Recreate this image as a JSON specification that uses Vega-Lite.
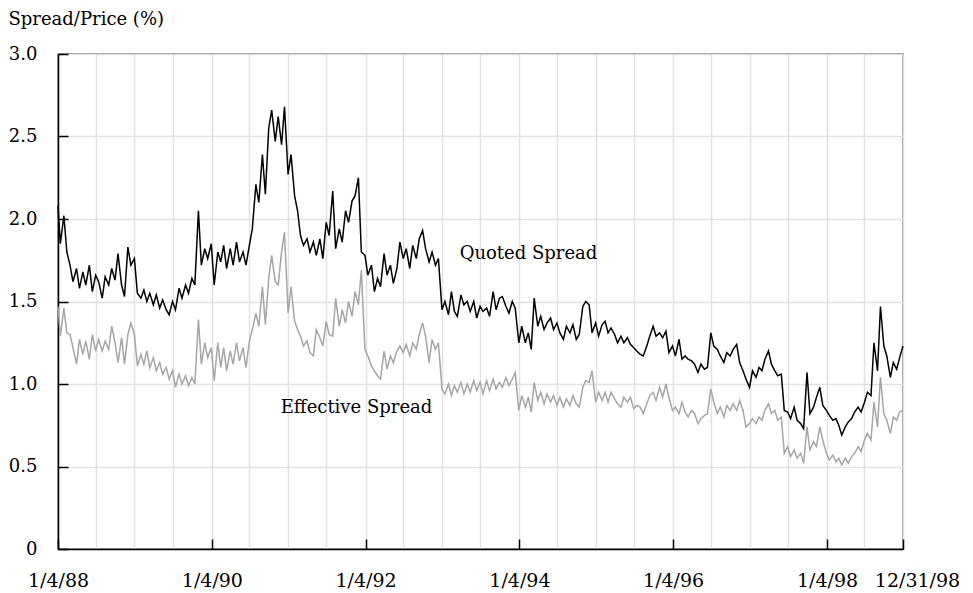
{
  "$schema": "https://vega.github.io/schema/vega-lite/v6.json",
  "width": 845,
  "height": 495,
  "autosize": "none",
  "padding": {"left": 58, "top": 54, "right": 70, "bottom": 44},
  "background": "white",
  "config": {
    "view": {"stroke": "#222222", "strokeWidth": 1.3},
    "font": "DejaVu Serif"
  },
  "data": {"values": [
    {"d":"1988-01-04","q":2.08,"e":1.47},{"d":"1988-01-15","q":1.85,"e":1.29},{"d":"1988-02-01","q":2.02,"e":1.46},{"d":"1988-02-15","q":1.80,"e":1.31},
    {"d":"1988-03-01","q":1.72,"e":1.30},{"d":"1988-03-15","q":1.62,"e":1.22},{"d":"1988-04-01","q":1.70,"e":1.12},{"d":"1988-04-15","q":1.58,"e":1.27},
    {"d":"1988-05-01","q":1.68,"e":1.18},{"d":"1988-05-15","q":1.60,"e":1.26},{"d":"1988-06-01","q":1.72,"e":1.15},{"d":"1988-06-15","q":1.56,"e":1.30},
    {"d":"1988-07-01","q":1.66,"e":1.20},{"d":"1988-07-15","q":1.62,"e":1.27},{"d":"1988-08-01","q":1.52,"e":1.20},{"d":"1988-08-15","q":1.65,"e":1.26},
    {"d":"1988-09-01","q":1.60,"e":1.21},{"d":"1988-09-15","q":1.70,"e":1.35},{"d":"1988-10-01","q":1.63,"e":1.25},{"d":"1988-10-15","q":1.79,"e":1.13},
    {"d":"1988-11-01","q":1.60,"e":1.28},{"d":"1988-11-15","q":1.53,"e":1.12},{"d":"1988-12-01","q":1.83,"e":1.30},{"d":"1988-12-15","q":1.72,"e":1.37},
    {"d":"1989-01-01","q":1.76,"e":1.30},{"d":"1989-01-15","q":1.55,"e":1.11},{"d":"1989-02-01","q":1.52,"e":1.18},{"d":"1989-02-15","q":1.57,"e":1.12},
    {"d":"1989-03-01","q":1.50,"e":1.20},{"d":"1989-03-15","q":1.55,"e":1.10},{"d":"1989-04-01","q":1.48,"e":1.16},{"d":"1989-04-15","q":1.54,"e":1.08},
    {"d":"1989-05-01","q":1.46,"e":1.13},{"d":"1989-05-15","q":1.51,"e":1.06},{"d":"1989-06-01","q":1.45,"e":1.10},{"d":"1989-06-15","q":1.42,"e":1.03},
    {"d":"1989-07-01","q":1.50,"e":1.08},{"d":"1989-07-15","q":1.45,"e":0.98},{"d":"1989-08-01","q":1.58,"e":1.06},{"d":"1989-08-15","q":1.52,"e":1.00},
    {"d":"1989-09-01","q":1.60,"e":1.05},{"d":"1989-09-15","q":1.55,"e":0.99},{"d":"1989-10-01","q":1.64,"e":1.04},{"d":"1989-10-15","q":1.60,"e":1.00},
    {"d":"1989-11-01","q":2.05,"e":1.39},{"d":"1989-11-15","q":1.72,"e":1.12},{"d":"1989-12-01","q":1.82,"e":1.25},{"d":"1989-12-15","q":1.76,"e":1.16},
    {"d":"1990-01-01","q":1.85,"e":1.22},{"d":"1990-01-15","q":1.60,"e":1.02},{"d":"1990-02-01","q":1.80,"e":1.25},{"d":"1990-02-15","q":1.74,"e":1.10},
    {"d":"1990-03-01","q":1.84,"e":1.22},{"d":"1990-03-15","q":1.70,"e":1.08},{"d":"1990-04-01","q":1.82,"e":1.20},{"d":"1990-04-15","q":1.72,"e":1.12},
    {"d":"1990-05-01","q":1.86,"e":1.25},{"d":"1990-05-15","q":1.74,"e":1.14},{"d":"1990-06-01","q":1.80,"e":1.22},{"d":"1990-06-15","q":1.72,"e":1.10},
    {"d":"1990-07-01","q":1.84,"e":1.26},{"d":"1990-07-15","q":1.94,"e":1.33},{"d":"1990-08-01","q":2.21,"e":1.43},{"d":"1990-08-15","q":2.10,"e":1.35},
    {"d":"1990-09-01","q":2.39,"e":1.59},{"d":"1990-09-15","q":2.15,"e":1.36},{"d":"1990-10-01","q":2.55,"e":1.64},{"d":"1990-10-15","q":2.66,"e":1.78},
    {"d":"1990-11-01","q":2.47,"e":1.62},{"d":"1990-11-15","q":2.62,"e":1.60},{"d":"1990-12-01","q":2.45,"e":1.80},{"d":"1990-12-15","q":2.68,"e":1.92},
    {"d":"1991-01-01","q":2.27,"e":1.43},{"d":"1991-01-15","q":2.39,"e":1.59},{"d":"1991-02-01","q":2.14,"e":1.38},{"d":"1991-02-15","q":2.05,"e":1.33},
    {"d":"1991-03-01","q":1.90,"e":1.29},{"d":"1991-03-15","q":1.84,"e":1.23},{"d":"1991-04-01","q":1.88,"e":1.26},{"d":"1991-04-15","q":1.80,"e":1.19},
    {"d":"1991-05-01","q":1.86,"e":1.17},{"d":"1991-05-15","q":1.78,"e":1.33},{"d":"1991-06-01","q":1.88,"e":1.28},{"d":"1991-06-15","q":1.76,"e":1.23},
    {"d":"1991-07-01","q":1.98,"e":1.38},{"d":"1991-07-15","q":1.90,"e":1.30},{"d":"1991-08-01","q":2.17,"e":1.29},{"d":"1991-08-15","q":1.82,"e":1.52},
    {"d":"1991-09-01","q":1.94,"e":1.35},{"d":"1991-09-15","q":1.86,"e":1.45},{"d":"1991-10-01","q":2.05,"e":1.37},{"d":"1991-10-15","q":1.98,"e":1.50},
    {"d":"1991-11-01","q":2.11,"e":1.41},{"d":"1991-11-15","q":2.14,"e":1.56},{"d":"1991-12-01","q":2.25,"e":1.48},{"d":"1991-12-15","q":1.80,"e":1.69},
    {"d":"1992-01-01","q":1.78,"e":1.21},{"d":"1992-01-15","q":1.66,"e":1.17},{"d":"1992-02-01","q":1.72,"e":1.11},{"d":"1992-02-15","q":1.56,"e":1.08},
    {"d":"1992-03-01","q":1.64,"e":1.05},{"d":"1992-03-15","q":1.59,"e":1.03},{"d":"1992-04-01","q":1.79,"e":1.20},{"d":"1992-04-15","q":1.66,"e":1.09},
    {"d":"1992-05-01","q":1.72,"e":1.17},{"d":"1992-05-15","q":1.61,"e":1.13},{"d":"1992-06-01","q":1.70,"e":1.20},{"d":"1992-06-15","q":1.86,"e":1.23},
    {"d":"1992-07-01","q":1.76,"e":1.19},{"d":"1992-07-15","q":1.82,"e":1.24},{"d":"1992-08-01","q":1.70,"e":1.17},{"d":"1992-08-15","q":1.84,"e":1.25},
    {"d":"1992-09-01","q":1.76,"e":1.21},{"d":"1992-09-15","q":1.88,"e":1.30},{"d":"1992-10-01","q":1.93,"e":1.37},{"d":"1992-10-15","q":1.82,"e":1.29},
    {"d":"1992-11-01","q":1.74,"e":1.13},{"d":"1992-11-15","q":1.80,"e":1.27},{"d":"1992-12-01","q":1.72,"e":1.21},{"d":"1992-12-15","q":1.76,"e":1.25},
    {"d":"1993-01-01","q":1.45,"e":0.97},{"d":"1993-01-15","q":1.50,"e":0.94},{"d":"1993-02-01","q":1.42,"e":1.00},{"d":"1993-02-15","q":1.56,"e":0.93},
    {"d":"1993-03-01","q":1.44,"e":0.99},{"d":"1993-03-15","q":1.41,"e":0.95},{"d":"1993-04-01","q":1.54,"e":1.01},{"d":"1993-04-15","q":1.48,"e":0.94},
    {"d":"1993-05-01","q":1.50,"e":1.00},{"d":"1993-05-15","q":1.44,"e":0.95},{"d":"1993-06-01","q":1.50,"e":1.02},{"d":"1993-06-15","q":1.40,"e":0.96},
    {"d":"1993-07-01","q":1.47,"e":1.01},{"d":"1993-07-15","q":1.44,"e":0.94},{"d":"1993-08-01","q":1.46,"e":1.02},{"d":"1993-08-15","q":1.41,"e":0.96},
    {"d":"1993-09-01","q":1.56,"e":1.03},{"d":"1993-09-15","q":1.45,"e":0.97},{"d":"1993-10-01","q":1.52,"e":1.01},{"d":"1993-10-15","q":1.53,"e":0.98},
    {"d":"1993-11-01","q":1.47,"e":1.04},{"d":"1993-11-15","q":1.43,"e":0.99},{"d":"1993-12-01","q":1.50,"e":1.03},{"d":"1993-12-15","q":1.46,"e":1.07},
    {"d":"1994-01-01","q":1.25,"e":0.84},{"d":"1994-01-15","q":1.35,"e":0.93},{"d":"1994-02-01","q":1.25,"e":0.86},{"d":"1994-02-15","q":1.31,"e":0.92},
    {"d":"1994-03-01","q":1.21,"e":0.83},{"d":"1994-03-15","q":1.52,"e":1.01},{"d":"1994-04-01","q":1.35,"e":0.90},{"d":"1994-04-15","q":1.41,"e":0.95},
    {"d":"1994-05-01","q":1.33,"e":0.88},{"d":"1994-05-15","q":1.37,"e":0.94},{"d":"1994-06-01","q":1.40,"e":0.89},{"d":"1994-06-15","q":1.33,"e":0.93},
    {"d":"1994-07-01","q":1.37,"e":0.87},{"d":"1994-07-15","q":1.31,"e":0.92},{"d":"1994-08-01","q":1.27,"e":0.86},{"d":"1994-08-15","q":1.35,"e":0.91},
    {"d":"1994-09-01","q":1.31,"e":0.87},{"d":"1994-09-15","q":1.36,"e":0.93},{"d":"1994-10-01","q":1.27,"e":0.88},{"d":"1994-10-15","q":1.30,"e":0.86},
    {"d":"1994-11-01","q":1.47,"e":0.98},{"d":"1994-11-15","q":1.50,"e":1.02},{"d":"1994-12-01","q":1.48,"e":1.01},{"d":"1994-12-15","q":1.31,"e":1.08},
    {"d":"1995-01-01","q":1.37,"e":0.89},{"d":"1995-01-15","q":1.29,"e":0.95},{"d":"1995-02-01","q":1.36,"e":0.90},{"d":"1995-02-15","q":1.38,"e":0.95},
    {"d":"1995-03-01","q":1.31,"e":0.89},{"d":"1995-03-15","q":1.34,"e":0.95},{"d":"1995-04-01","q":1.30,"e":0.91},{"d":"1995-04-15","q":1.25,"e":0.88},
    {"d":"1995-05-01","q":1.29,"e":0.86},{"d":"1995-05-15","q":1.25,"e":0.92},{"d":"1995-06-01","q":1.28,"e":0.89},{"d":"1995-06-15","q":1.24,"e":0.92},
    {"d":"1995-07-01","q":1.22,"e":0.85},{"d":"1995-07-15","q":1.20,"e":0.87},{"d":"1995-08-01","q":1.18,"e":0.86},{"d":"1995-08-15","q":1.17,"e":0.82},
    {"d":"1995-09-01","q":1.23,"e":0.88},{"d":"1995-09-15","q":1.29,"e":0.93},{"d":"1995-10-01","q":1.35,"e":0.95},{"d":"1995-10-15","q":1.29,"e":0.90},
    {"d":"1995-11-01","q":1.31,"e":0.98},{"d":"1995-11-15","q":1.28,"e":0.92},{"d":"1995-12-01","q":1.32,"e":1.00},{"d":"1995-12-15","q":1.19,"e":0.92},
    {"d":"1996-01-01","q":1.23,"e":0.84},{"d":"1996-01-15","q":1.17,"e":0.86},{"d":"1996-02-01","q":1.27,"e":0.82},{"d":"1996-02-15","q":1.15,"e":0.89},
    {"d":"1996-03-01","q":1.17,"e":0.83},{"d":"1996-03-15","q":1.15,"e":0.80},{"d":"1996-04-01","q":1.14,"e":0.84},{"d":"1996-04-15","q":1.12,"e":0.82},
    {"d":"1996-05-01","q":1.07,"e":0.76},{"d":"1996-05-15","q":1.12,"e":0.79},{"d":"1996-06-01","q":1.09,"e":0.81},{"d":"1996-06-15","q":1.10,"e":0.82},
    {"d":"1996-07-01","q":1.31,"e":0.97},{"d":"1996-07-15","q":1.23,"e":0.89},{"d":"1996-08-01","q":1.21,"e":0.82},{"d":"1996-08-15","q":1.17,"e":0.86},
    {"d":"1996-09-01","q":1.13,"e":0.80},{"d":"1996-09-15","q":1.19,"e":0.87},{"d":"1996-10-01","q":1.17,"e":0.84},{"d":"1996-10-15","q":1.21,"e":0.88},
    {"d":"1996-11-01","q":1.24,"e":0.84},{"d":"1996-11-15","q":1.13,"e":0.90},{"d":"1996-12-01","q":1.08,"e":0.84},{"d":"1996-12-15","q":1.03,"e":0.74},
    {"d":"1997-01-01","q":0.98,"e":0.76},{"d":"1997-01-15","q":1.08,"e":0.79},{"d":"1997-02-01","q":1.04,"e":0.76},{"d":"1997-02-15","q":1.10,"e":0.80},
    {"d":"1997-03-01","q":1.08,"e":0.78},{"d":"1997-03-15","q":1.15,"e":0.84},{"d":"1997-04-01","q":1.20,"e":0.88},{"d":"1997-04-15","q":1.12,"e":0.82},
    {"d":"1997-05-01","q":1.08,"e":0.84},{"d":"1997-05-15","q":1.05,"e":0.78},{"d":"1997-06-01","q":1.06,"e":0.80},{"d":"1997-06-15","q":0.84,"e":0.58},
    {"d":"1997-07-01","q":0.83,"e":0.62},{"d":"1997-07-15","q":0.79,"e":0.56},{"d":"1997-08-01","q":0.86,"e":0.60},{"d":"1997-08-15","q":0.78,"e":0.55},
    {"d":"1997-09-01","q":0.76,"e":0.58},{"d":"1997-09-15","q":0.73,"e":0.52},{"d":"1997-10-01","q":1.07,"e":0.74},{"d":"1997-10-15","q":0.82,"e":0.60},
    {"d":"1997-11-01","q":0.86,"e":0.65},{"d":"1997-11-15","q":0.92,"e":0.62},{"d":"1997-12-01","q":0.98,"e":0.74},{"d":"1997-12-15","q":0.87,"e":0.66},
    {"d":"1998-01-01","q":0.84,"e":0.58},{"d":"1998-01-15","q":0.81,"e":0.54},{"d":"1998-02-01","q":0.78,"e":0.57},{"d":"1998-02-15","q":0.79,"e":0.53},
    {"d":"1998-03-01","q":0.75,"e":0.55},{"d":"1998-03-15","q":0.69,"e":0.51},{"d":"1998-04-01","q":0.74,"e":0.55},{"d":"1998-04-15","q":0.77,"e":0.52},
    {"d":"1998-05-01","q":0.79,"e":0.56},{"d":"1998-05-15","q":0.83,"e":0.58},{"d":"1998-06-01","q":0.86,"e":0.62},{"d":"1998-06-15","q":0.83,"e":0.59},
    {"d":"1998-07-01","q":0.89,"e":0.66},{"d":"1998-07-15","q":0.95,"e":0.70},{"d":"1998-08-01","q":0.93,"e":0.66},{"d":"1998-08-15","q":1.25,"e":0.89},
    {"d":"1998-09-01","q":1.08,"e":0.74},{"d":"1998-09-15","q":1.47,"e":1.04},{"d":"1998-10-01","q":1.23,"e":0.82},{"d":"1998-10-15","q":1.17,"e":0.78},
    {"d":"1998-11-01","q":1.04,"e":0.70},{"d":"1998-11-15","q":1.13,"e":0.80},{"d":"1998-12-01","q":1.09,"e":0.78},{"d":"1998-12-15","q":1.16,"e":0.83},
    {"d":"1998-12-31","q":1.23,"e":0.84}
  ]},
  "encoding": {
    "x": {
      "field": "d",
      "type": "temporal",
      "scale": {"type": "utc", "domain": [{"year": 1988, "month": 1, "date": 4, "utc": true}, {"year": 1998, "month": 12, "date": 31, "utc": true}]},
      "axis": {
        "title": null,
        "values": [
          {"year":1988,"month":1,"date":4,"utc":true},{"year":1988,"month":7,"date":1,"utc":true},
          {"year":1989,"month":1,"date":1,"utc":true},{"year":1989,"month":7,"date":1,"utc":true},
          {"year":1990,"month":1,"date":4,"utc":true},{"year":1990,"month":7,"date":1,"utc":true},
          {"year":1991,"month":1,"date":1,"utc":true},{"year":1991,"month":7,"date":1,"utc":true},
          {"year":1992,"month":1,"date":4,"utc":true},{"year":1992,"month":7,"date":1,"utc":true},
          {"year":1993,"month":1,"date":1,"utc":true},{"year":1993,"month":7,"date":1,"utc":true},
          {"year":1994,"month":1,"date":4,"utc":true},{"year":1994,"month":7,"date":1,"utc":true},
          {"year":1995,"month":1,"date":1,"utc":true},{"year":1995,"month":7,"date":1,"utc":true},
          {"year":1996,"month":1,"date":4,"utc":true},{"year":1996,"month":7,"date":1,"utc":true},
          {"year":1997,"month":1,"date":1,"utc":true},{"year":1997,"month":7,"date":1,"utc":true},
          {"year":1998,"month":1,"date":4,"utc":true},{"year":1998,"month":7,"date":1,"utc":true},
          {"year":1998,"month":12,"date":31,"utc":true}
        ],
        "labelExpr": "(utcdate(datum.value) == 4 || utcmonth(datum.value) == 11) ? utcFormat(datum.value, '%-m/%-d/%y') : ''",
        "labelFlush": false,
        "labelOverlap": false,
        "labelFont": "DejaVu Serif",
        "labelFontSize": 19,
        "labelColor": "#000000",
        "labelPadding": 32,
        "labelOffset": {"condition": {"test": "utcmonth(datum.value) == 11", "value": 14}, "value": 0},
        "grid": true,
        "gridColor": "#e2e2e2",
        "gridWidth": 1.5,
        "domainColor": "#000000",
        "domainWidth": 1.5,
        "tickColor": "#000000",
        "tickWidth": 1.5,
        "tickSize": -10,
        "tickOpacity": {"condition": {"test": "utcdate(datum.value) == 4 || utcmonth(datum.value) == 11", "value": 1}, "value": 0}
      }
    },
    "y": {
      "field": "val",
      "type": "quantitative",
      "scale": {"domain": [0, 3], "nice": false, "zero": true},
      "axis": {
        "title": "Spread/Price (%)",
        "titleAngle": 0,
        "titleAlign": "left",
        "titleBaseline": "alphabetic",
        "titleX": -50,
        "titleY": -30,
        "titleFont": "DejaVu Serif",
        "titleFontSize": 18,
        "titleFontWeight": "normal",
        "titleColor": "#000000",
        "values": [0, 0.5, 1, 1.5, 2, 2.5, 3],
        "labelExpr": "datum.value == 0 ? '0' : format(datum.value, '.1f')",
        "labelFont": "DejaVu Serif",
        "labelFontSize": 18,
        "labelColor": "#000000",
        "labelPadding": 31,
        "grid": true,
        "gridColor": "#e2e2e2",
        "gridWidth": 1.5,
        "domainColor": "#000000",
        "domainWidth": 1.5,
        "tickColor": "#000000",
        "tickWidth": 1.5,
        "tickSize": -10
      }
    }
  },
  "layer": [
    {
      "transform": [{"fold": ["e", "q"], "as": ["series", "val"]}],
      "mark": {"type": "line", "strokeWidth": 1.5, "interpolate": "linear"},
      "encoding": {
        "color": {"field": "series", "type": "nominal", "scale": {"domain": ["e", "q"], "range": ["#a6a6a6", "#000000"]}, "legend": null}
      }
    },
    {
      "data": {"values": [
        {"d": "1993-03-26", "val": 1.755, "t": "Quoted Spread"},
        {"d": "1990-11-27", "val": 0.823, "t": "Effective Spread"}
      ]},
      "mark": {"type": "text", "align": "left", "baseline": "alphabetic", "font": "DejaVu Serif", "fontSize": 18, "color": "#000000"},
      "encoding": {"text": {"field": "t", "type": "nominal"}}
    }
  ]
}
